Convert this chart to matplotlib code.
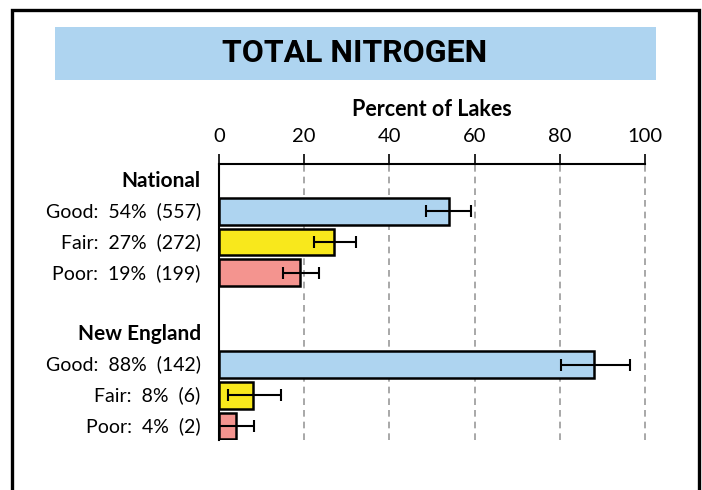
import matplotlib.pyplot as plt
from matplotlib.patches import Rectangle

# data
groups = ["National", "New England"]
classes = ["Good", "Fair", "Poor"]
pct = [[54, 27, 19], [88, 8, 4]]
counts = [[557, 272, 199], [142, 6, 2]]
err_lo = [[48.5, 22.3, 15.0], [80.2, 2.0, 0.0]]
err_hi = [[59.2, 32.2, 23.5], [96.5, 14.5, 8.3]]
colors = ["#aed4f0", "#f8e81c", "#f4948f"]
xticks = [0, 20, 40, 60, 80, 100]

W, H = 702, 490
fig = plt.figure(figsize=(W / 100, H / 100), dpi=100)

font = "Lato"

# outer frame
fig.patches.append(Rectangle((12 / W, -0.05), 687 / W, 1.05 - 10 / H,
                             transform=fig.transFigure, fill=False,
                             edgecolor="black", linewidth=2.4))
# title banner
fig.patches.append(Rectangle((55 / W, 1 - 80 / H), 601 / W, 53 / H,
                             transform=fig.transFigure, facecolor="#aed4f0",
                             edgecolor="none"))
fig.text(355 / W, 1 - 53 / H, "TOTAL NITROGEN", ha="center", va="center",
         fontsize=23, fontweight="bold", family="Roboto")

ax = fig.add_axes([219 / W, 1 - 440 / H, 426 / W, 276 / H])

ylabels = []
row = 0
for g, grp in enumerate(groups):
    ylabels.append((row, grp, True))
    row += 1
    for c, cls in enumerate(classes):
        v = pct[g][c]
        ax.barh(row, v, height=0.87, color=colors[c], edgecolor="black",
                linewidth=1.8, zorder=3)
        lo, hi = err_lo[g][c], err_hi[g][c]
        ax.errorbar((lo + hi) / 2, row, xerr=(hi - lo) / 2, fmt="none",
                    ecolor="black", elinewidth=1.5, capsize=4, capthick=1.5,
                    zorder=4)
        ylabels.append((row, f"{cls}:  {v}%  ({counts[g][c]})", False))
        row += 1
    row += 1

for y, txt, b in ylabels:
    ax.text(-4.3, y, txt, ha="right", va="center",
            fontsize=15 if b else 14, fontweight="bold" if b else "normal",
            family=font, transform=ax.transData, clip_on=False)

ax.set_xlim(0, 100)
ax.set_ylim(8.46, -0.55)
ax.set_yticks([])
ax.xaxis.tick_top()
ax.set_xticks(xticks)
ax.set_xticklabels([str(t) for t in xticks], family=font, fontsize=14.5)
ax.tick_params(axis="x", direction="out", length=7, width=1.2, pad=7)
ax.set_xlabel("Percent of Lakes", family=font, fontweight="bold",
              fontsize=15.5, labelpad=8)
ax.xaxis.set_label_position("top")

for t in xticks[1:]:
    ax.axvline(t, color="#999999", linestyle=(0, (4, 3)), linewidth=1.2,
               zorder=1, clip_on=False)

for s in ["bottom", "right"]:
    ax.spines[s].set_visible(False)
ax.spines["top"].set_linewidth(1.5)
ax.spines["left"].set_linewidth(1.5)

fig.savefig("out.png", dpi=100)
